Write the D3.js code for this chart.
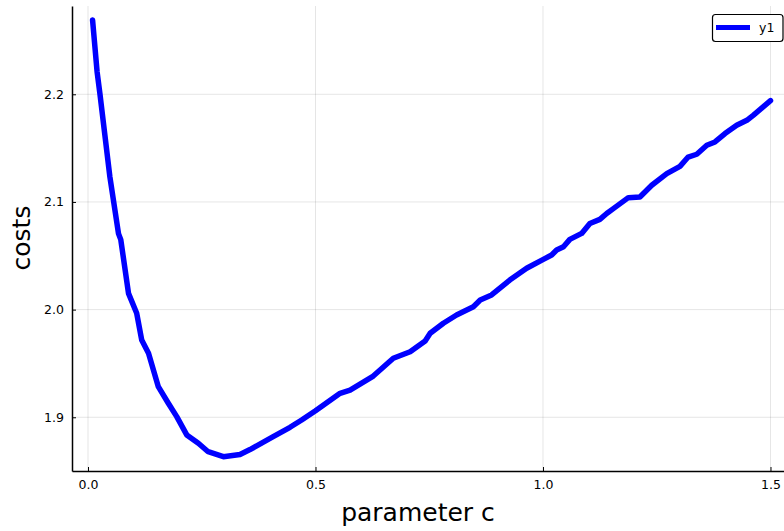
<html>
<head>
<title>costs vs parameter c</title>
<style type="text/css">
  body {margin: 0; background: white;}
  text {font-family: "DejaVu Sans", sans-serif;}
</style>
</head>
<body>
<svg id="chart" width="784" height="531"></svg>
<script src="https://cdnjs.cloudflare.com/ajax/libs/d3/7.8.5/d3.min.js"></script>
<script>
  // values
  var cValues = [0.01, 0.02, 0.026, 0.048, 0.067, 0.072, 0.089, 0.107, 0.118, 0.133, 0.1545, 0.1765, 0.195, 0.217,
    0.2425, 0.264, 0.2975, 0.334, 0.356, 0.407, 0.444, 0.4696, 0.5, 0.554, 0.576, 0.627, 0.671, 0.708, 0.741,
    0.752, 0.781, 0.81, 0.847, 0.862, 0.887, 0.927, 0.964, 1.0007, 1.019, 1.03, 1.045, 1.059, 1.085, 1.103,
    1.125, 1.14, 1.1546, 1.1875, 1.213, 1.239, 1.272, 1.301, 1.319, 1.338, 1.36, 1.378, 1.4, 1.4257, 1.448,
    1.462, 1.5];
  var costValues = [2.269, 2.2207, 2.201, 2.1235, 2.0706, 2.065, 2.0151, 1.9966, 1.9718, 1.9594, 1.9284, 1.913, 1.9006, 1.8836,
    1.8759, 1.868, 1.8634, 1.8654, 1.870, 1.882, 1.8907, 1.8975, 1.9061, 1.9223, 1.9253, 1.9383, 1.9548, 1.9609, 1.9708,
    1.978, 1.9873, 1.995, 2.0027, 2.0089, 2.0136, 2.0275, 2.0384, 2.0467, 2.0507, 2.0553, 2.0584, 2.0652, 2.0708, 2.08,
    2.0838, 2.0893, 2.0938, 2.104, 2.1046, 2.1155, 2.1263, 2.1331, 2.1417, 2.1443, 2.1526, 2.1557, 2.1635, 2.1712, 2.1758,
    2.1805, 2.1941];
  var xTicks = [0.0, 0.5, 1.0, 1.5];
  var yTicks = [1.9, 2.0, 2.1, 2.2];
  var seriesName = "y1";

  var svg = d3.select("#chart");
  var plotLeft = 72, plotRight = 784, plotTop = 6, plotBottom = 471;

  var xScale = d3.scaleLinear().domain([-0.0352, 1.5297]).range([plotLeft, plotRight]);
  var yScale = d3.scaleLinear().domain([1.8501, 2.282]).range([plotBottom, plotTop]);

  var points = cValues.map(function (c, i) { return [c, costValues[i]]; });

  // grid
  svg.append("g").selectAll("line").data(xTicks).enter().append("line")
    .attr("x1", function (d) { return xScale(d); }).attr("x2", function (d) { return xScale(d); })
    .attr("y1", plotTop).attr("y2", plotBottom)
    .attr("stroke", "#000").attr("stroke-opacity", 0.1).attr("stroke-width", 1);
  svg.append("g").selectAll("line").data(yTicks).enter().append("line")
    .attr("y1", function (d) { return yScale(d); }).attr("y2", function (d) { return yScale(d); })
    .attr("x1", plotLeft).attr("x2", plotRight)
    .attr("stroke", "#000").attr("stroke-opacity", 0.1).attr("stroke-width", 1);

  // axes
  var xAxis = d3.axisBottom(xScale).tickValues(xTicks).tickFormat(d3.format(".1f")).tickSizeInner(-4).tickSizeOuter(0).tickPadding(9);
  var yAxis = d3.axisLeft(yScale).tickValues(yTicks).tickFormat(d3.format(".1f")).tickSizeInner(-4).tickSizeOuter(0).tickPadding(8);

  var gx = svg.append("g").attr("transform", "translate(0," + plotBottom + ")").call(xAxis);
  var gy = svg.append("g").attr("transform", "translate(" + plotLeft + ",0)").call(yAxis);
  [gx, gy].forEach(function (g) {
    g.select(".domain").attr("stroke", "#000").attr("stroke-width", 1.5);
    g.selectAll(".tick line").attr("stroke", "#000").attr("stroke-width", 1);
    g.selectAll(".tick text").attr("font-size", 12.5).attr("font-family", "DejaVu Sans").attr("fill", "#000");
  });

  // line
  var line = d3.line().x(function (d) { return xScale(d[0]); }).y(function (d) { return yScale(d[1]); }).curve(d3.curveLinear);
  svg.append("path").datum(points).attr("d", line)
    .attr("fill", "none").attr("stroke", "#0000ff").attr("stroke-width", 5.5)
    .attr("stroke-linejoin", "round").attr("stroke-linecap", "round");

  // axis titles
  svg.append("text").attr("x", 418).attr("y", 521).attr("text-anchor", "middle")
    .attr("font-size", 25).text("parameter c");
  svg.append("text").attr("transform", "translate(30,238) rotate(-90)")
    .attr("text-anchor", "middle").attr("font-size", 25).text("costs");

  // legend
  var lg = svg.append("g");
  lg.append("rect").attr("x", 712.5).attr("y", 14.5).attr("width", 70.5).attr("height", 27).attr("rx", 3)
    .attr("fill", "white").attr("stroke", "#000").attr("stroke-width", 1.2);
  lg.append("line").attr("x1", 716).attr("x2", 750).attr("y1", 27.5).attr("y2", 27.5)
    .attr("stroke", "#0000ff").attr("stroke-width", 5);
  lg.append("text").attr("x", 759).attr("y", 32).attr("font-size", 12.5).text(seriesName);
</script>
</body>
</html>
